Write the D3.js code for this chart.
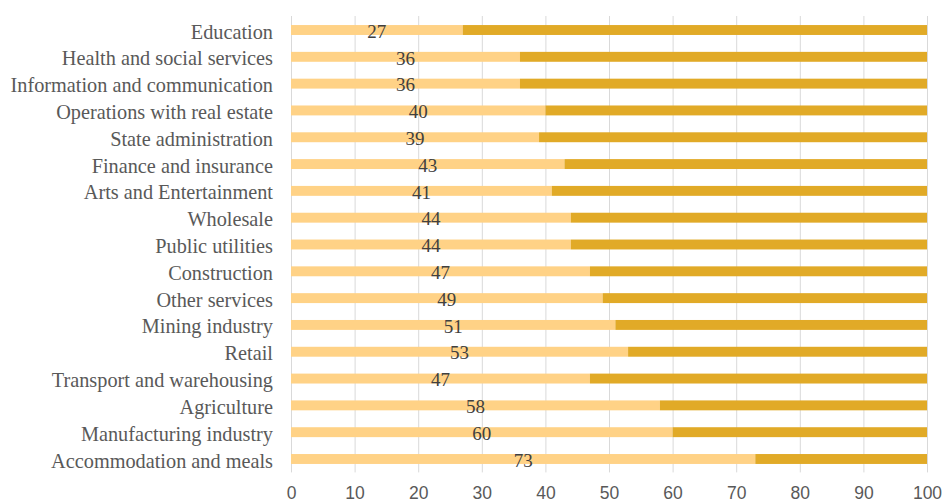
<!DOCTYPE html>
<html>
<head>
<meta charset="utf-8">
<script src="https://cdn.jsdelivr.net/npm/d3@7"></script>
<style>
  body { margin: 0; background: #fff; }
</style>
</head>
<body>
<div id="chart"></div>
<script>
// Data
const categories = [
    "Education",
    "Health and social services",
    "Information and communication",
    "Operations with real estate",
    "State administration",
    "Finance and insurance",
    "Arts and Entertainment",
    "Wholesale",
    "Public utilities",
    "Construction",
    "Other services",
    "Mining industry",
    "Retail",
    "Transport and warehousing",
    "Agriculture",
    "Manufacturing industry",
    "Accommodation and meals"
];
const values = [27, 36, 36, 40, 39, 43, 41, 44, 44, 47, 49, 51, 53, 47, 58, 60, 73];
const xTicks = [0, 10, 20, 30, 40, 50, 60, 70, 80, 90, 100];

const data = categories.map((c, i) => ({ name: c, value: values[i] }));

// Dimensions
const width = 946, height = 503;
const plotLeft = 291, plotRight = 927, plotTop = 16, plotBottom = 472.4;

const svg = d3.select("#chart").append("svg")
    .attr("width", width)
    .attr("height", height);

// Scales
const x = d3.scaleLinear().domain([0, 100]).range([plotLeft, plotRight]);
const y = d3.scaleBand()
    .domain(categories)
    .range([16.6, plotBottom])
    .paddingInner(0.63)
    .paddingOuter(0.315);

// Gridlines
const grid = svg.append("g")
    .attr("transform", `translate(0,${plotBottom})`)
    .call(d3.axisBottom(x).tickValues(xTicks).tickSize(-(plotBottom - plotTop)).tickFormat(""));
grid.select(".domain").remove();
grid.selectAll("line").attr("stroke", "#d9d9d9").attr("stroke-width", 1);

// X tick labels
const xAxis = svg.append("g")
    .attr("transform", `translate(0,${plotBottom})`)
    .call(d3.axisBottom(x).tickValues(xTicks).tickSize(0).tickPadding(14));
xAxis.select(".domain").remove();
xAxis.selectAll("text")
    .attr("fill", "#595959")
    .style("font-family", "'Liberation Sans', Arial, sans-serif")
    .style("font-size", "17.5px");

// Y axis labels
const yAxis = svg.append("g")
    .attr("transform", `translate(${plotLeft},0)`)
    .call(d3.axisLeft(y).tickSize(0).tickPadding(18));
yAxis.select(".domain").remove();
yAxis.selectAll("text")
    .attr("fill", "#595959")
    .attr("dy", "0.42em")
    .style("font-family", "'Liberation Serif', 'Times New Roman', serif")
    .style("font-size", "20.3px");

// Light segment (value)
svg.selectAll(".bar-a")
    .data(data)
    .enter().append("rect")
    .attr("class", "bar-a")
    .attr("x", x(0))
    .attr("y", d => y(d.name))
    .attr("width", d => x(d.value) - x(0))
    .attr("height", y.bandwidth())
    .attr("fill", "#ffd286");

// Dark segment (remainder to 100)
svg.selectAll(".bar-b")
    .data(data)
    .enter().append("rect")
    .attr("class", "bar-b")
    .attr("x", d => x(d.value))
    .attr("y", d => y(d.name))
    .attr("width", d => x(100) - x(d.value))
    .attr("height", y.bandwidth())
    .attr("fill", "#e1aa27");

// Value labels
svg.selectAll(".bar-label")
    .data(data)
    .enter().append("text")
    .attr("class", "bar-label")
    .attr("x", d => (x(0) + x(d.value)) / 2)
    .attr("y", d => y(d.name) + y.bandwidth() / 2 + 7.7)
    .attr("text-anchor", "middle")
    .attr("fill", "#404040")
    .style("font-family", "'Liberation Serif', 'Times New Roman', serif")
    .style("font-size", "19px")
    .text(d => d.value);
</script>
</body>
</html>
